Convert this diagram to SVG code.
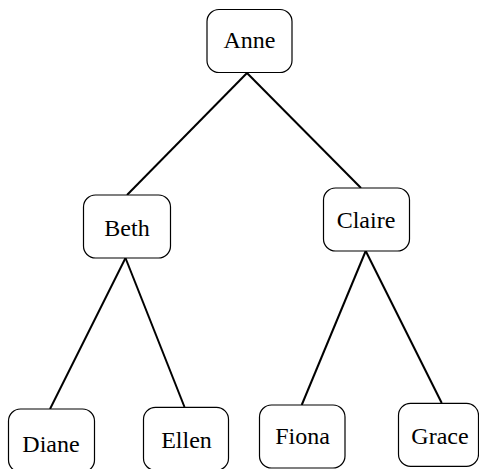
<svg xmlns="http://www.w3.org/2000/svg" width="479" height="469" viewBox="0 0 479 469">
<style>
.box{fill:#fff;stroke:#000;stroke-width:1.2}
.lbl{font-family:"Liberation Serif","Times New Roman",serif;font-size:24px;fill:#000;text-anchor:middle}
.edge{stroke:#000;stroke-width:2;fill:none}
</style>
<rect width="479" height="469" fill="#fff"/>
<g id="connectors">
<line class="edge" x1="247" y1="73" x2="127" y2="195"/>
<line class="edge" x1="247" y1="73" x2="361" y2="188"/>
<line class="edge" x1="125.5" y1="258" x2="50" y2="409"/>
<line class="edge" x1="125.5" y1="258" x2="184.5" y2="407"/>
<line class="edge" x1="365.7" y1="251" x2="301.7" y2="405"/>
<line class="edge" x1="365.7" y1="251" x2="441.7" y2="403"/>
</g>
<g id="anne"><rect class="box" x="207" y="9.5" width="85" height="63" rx="12"/><text class="lbl" x="249.5" y="47.5">Anne</text></g>
<g id="beth"><rect class="box" x="83.5" y="195" width="87" height="63" rx="12"/><text class="lbl" x="127" y="235.7">Beth</text></g>
<g id="claire"><rect class="box" x="323.5" y="188" width="86" height="63" rx="12"/><text class="lbl" x="366" y="228.3">Claire</text></g>
<g id="diane"><rect class="box" x="8.5" y="409" width="86" height="63" rx="12"/><text class="lbl" x="51" y="451.7">Diane</text></g>
<g id="ellen"><rect class="box" x="143.5" y="407.3" width="85" height="63" rx="12"/><text class="lbl" x="186.5" y="448.3">Ellen</text></g>
<g id="fiona"><rect class="box" x="259.5" y="405" width="85.5" height="63" rx="12"/><text class="lbl" x="302.5" y="444">Fiona</text></g>
<g id="grace"><rect class="box" x="398.5" y="403.3" width="80" height="63" rx="12"/><text class="lbl" x="440" y="444.3">Grace</text></g>
</svg>
